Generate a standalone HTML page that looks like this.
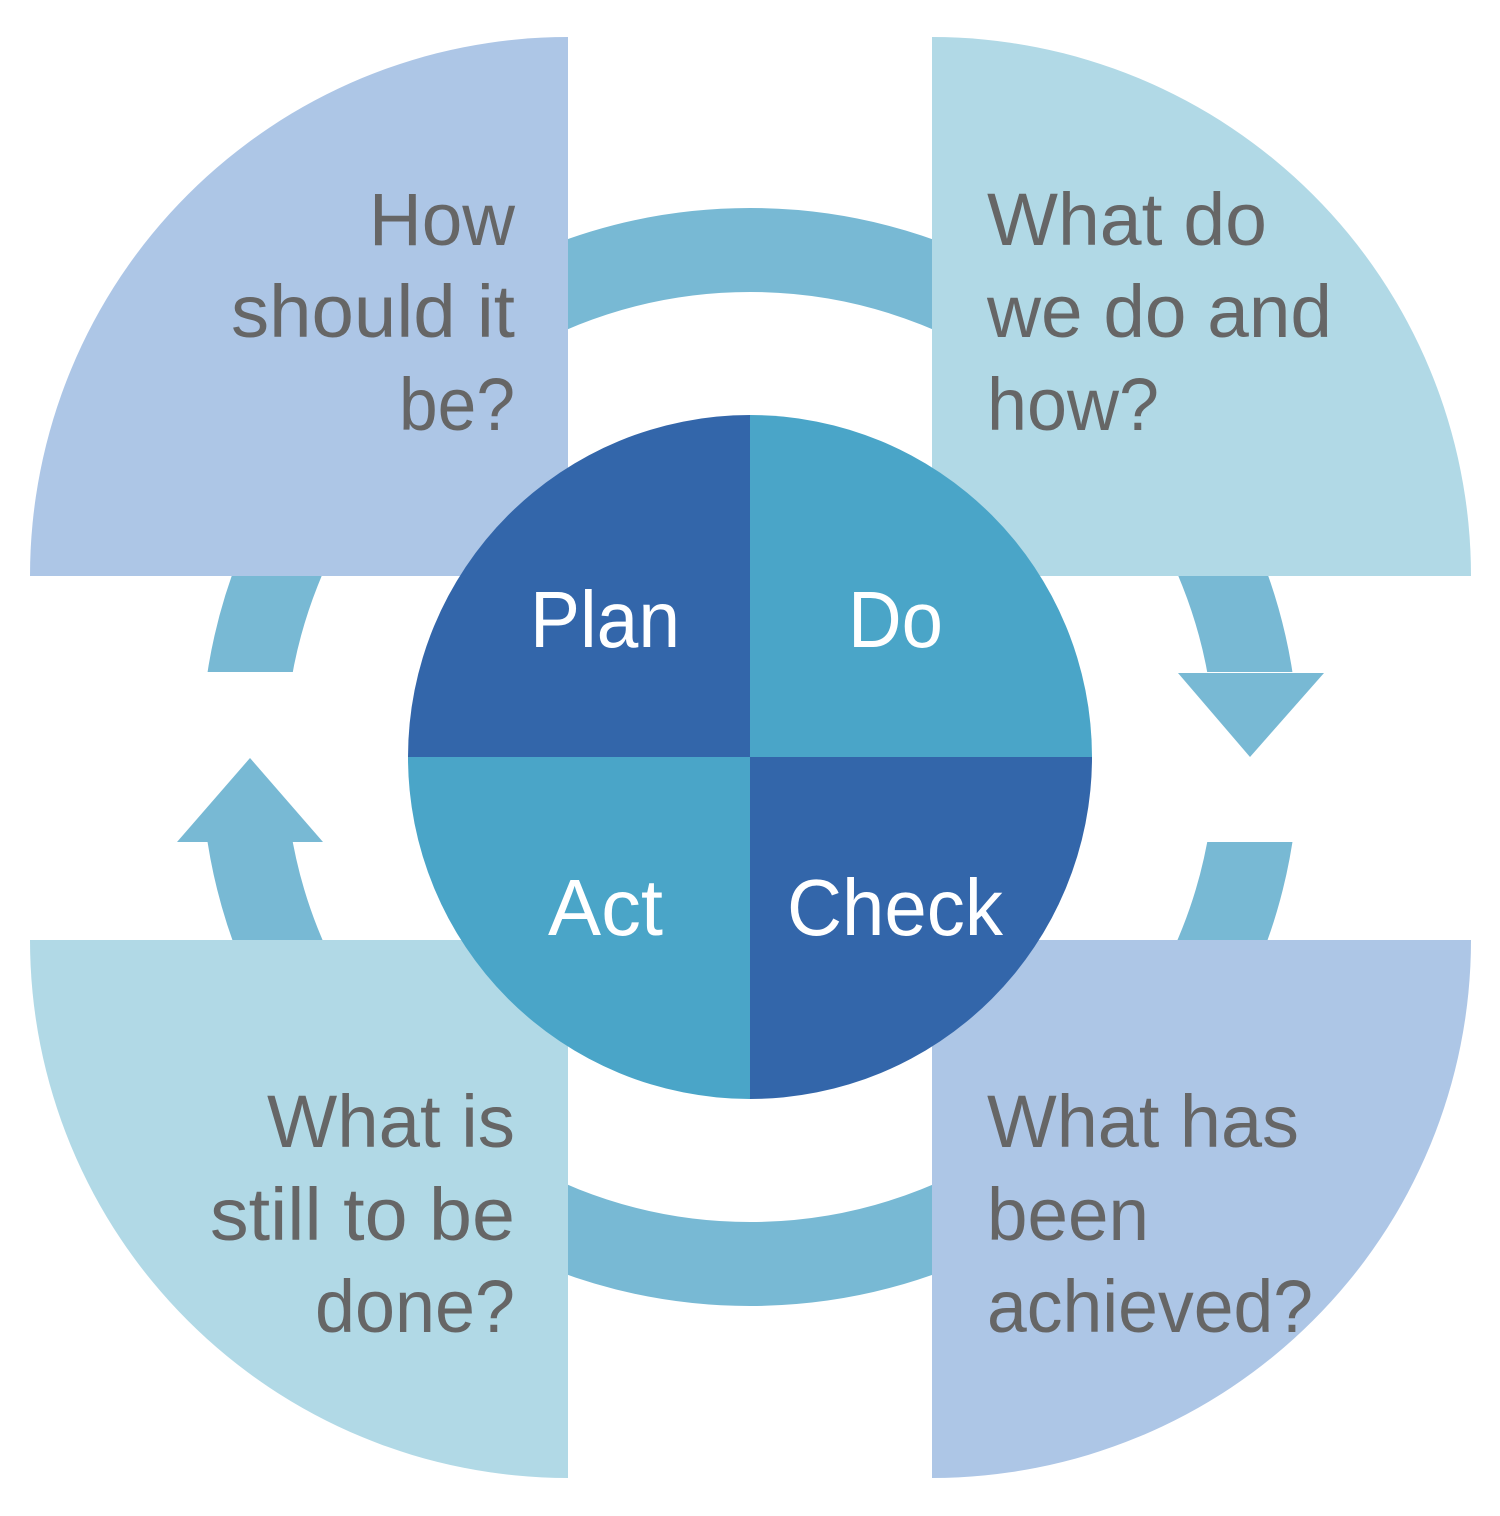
<!DOCTYPE html>
<html><head><meta charset="utf-8"><style>html,body{margin:0;padding:0;background:#fff}svg{display:block}</style></head>
<body>
<svg width="1500" height="1516" viewBox="0 0 1500 1516" xmlns="http://www.w3.org/2000/svg">
<!-- ring -->
<circle cx="750" cy="757" r="507" fill="none" stroke="#78b9d4" stroke-width="84"/>
<rect x="150" y="672" width="250" height="170" fill="#fff"/>
<rect x="1100" y="672" width="250" height="170" fill="#fff"/>
<polygon points="1178,673 1324,673 1250,757" fill="#78b9d4"/>
<polygon points="177,842 323,842 250,758" fill="#78b9d4"/>
<!-- quadrants -->
<path d="M568,576 L30,576 A538,539 0 0 1 568,37 Z" fill="#adc6e6"/>
<path d="M932,576 L932,37 A539,539 0 0 1 1471,576 Z" fill="#b1d9e6"/>
<path d="M568,940 L568,1478 A538,538 0 0 1 30,940 Z" fill="#b1d9e6"/>
<path d="M932,940 L1471,940 A539,538 0 0 1 932,1478 Z" fill="#adc6e6"/>
<!-- pie -->
<path d="M750,757 L408,757 A342,342 0 0 1 750,415 Z" fill="#3366aa"/>
<path d="M750,757 L750,415 A342,342 0 0 1 1092,757 Z" fill="#4aa5c8"/>
<path d="M750,757 L1092,757 A342,342 0 0 1 750,1099 Z" fill="#3366aa"/>
<path d="M750,757 L750,1099 A342,342 0 0 1 408,757 Z" fill="#4aa5c8"/>
<g font-family="Liberation Sans, sans-serif" fill="#fff" font-size="80">
<text x="530" y="647" textLength="150" lengthAdjust="spacingAndGlyphs">Plan</text>
<text x="848" y="647" textLength="95" lengthAdjust="spacingAndGlyphs">Do</text>
<text x="548" y="935" textLength="115" lengthAdjust="spacingAndGlyphs">Act</text>
<text x="787" y="935" textLength="216" lengthAdjust="spacingAndGlyphs">Check</text>
</g>
<g font-family="Liberation Sans, sans-serif" fill="#666" font-size="74">
<text x="515" y="245" text-anchor="end" textLength="146" lengthAdjust="spacingAndGlyphs">How</text>
<text x="515" y="337" text-anchor="end" textLength="284" lengthAdjust="spacingAndGlyphs">should it</text>
<text x="515" y="430" text-anchor="end" textLength="116" lengthAdjust="spacingAndGlyphs">be?</text>
<text x="987" y="245" textLength="280" lengthAdjust="spacingAndGlyphs">What do</text>
<text x="987" y="337" textLength="345" lengthAdjust="spacingAndGlyphs">we do and</text>
<text x="987" y="430" textLength="172" lengthAdjust="spacingAndGlyphs">how?</text>
<text x="515" y="1147" text-anchor="end" textLength="248" lengthAdjust="spacingAndGlyphs">What is</text>
<text x="515" y="1240" text-anchor="end" textLength="305" lengthAdjust="spacingAndGlyphs">still to be</text>
<text x="515" y="1332" text-anchor="end" textLength="200" lengthAdjust="spacingAndGlyphs">done?</text>
<text x="987" y="1147" textLength="312" lengthAdjust="spacingAndGlyphs">What has</text>
<text x="987" y="1240" textLength="162" lengthAdjust="spacingAndGlyphs">been</text>
<text x="987" y="1332" textLength="326" lengthAdjust="spacingAndGlyphs">achieved?</text>
</g>
</svg>
</body></html>
